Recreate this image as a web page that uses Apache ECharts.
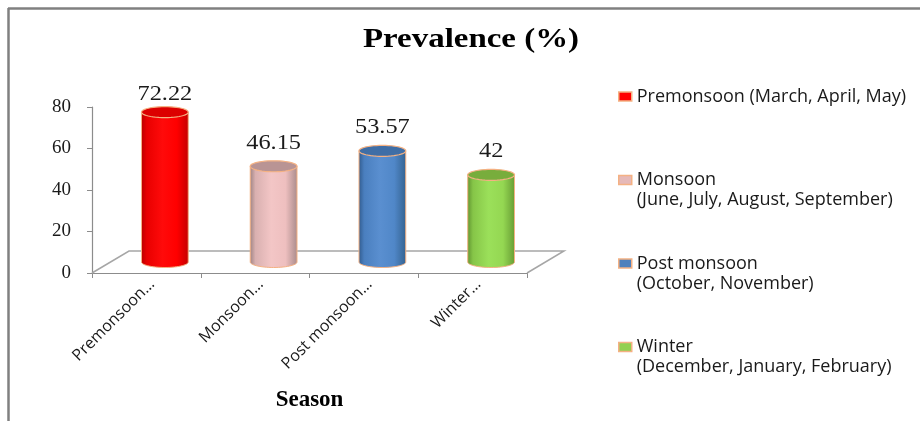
<!DOCTYPE html>
<html>
<head>
<meta charset="utf-8">
<script src="https://cdn.jsdelivr.net/npm/echarts@6/dist/echarts.min.js"></script>
<style>
  html, body { margin: 0; padding: 0; background: #fff; }
  #chart { width: 920px; height: 421px; }
</style>
</head>
<body>
<div id="chart"></div>
<script>
// ---- data ----
const categories = ['Premonsoon…', 'Monsoon…', 'Post monsoon…', 'Winter…'];
const seasonNames = [
  'Premonsoon (March, April, May)',
  'Monsoon\n(June, July, August, September)',
  'Post monsoon\n(October, November)',
  'Winter\n(December, January, February)'
];
const prevalence = [72.22, 46.15, 53.57, 42];
const yMin = 0, yMax = 80, yStep = 20;
const chartTitle = 'Prevalence (%)';
const xAxisTitle = 'Season';

// ---- styling ----
const OUTLINE = '#f4b183';
const AXIS_GRAY = '#8c8c8c';
const DEPTH_X = 37, DEPTH_Y = -22;   // floor depth offset (back edge vs front edge)
const WIDE = 1.16;                   // horizontal stretch of the serif captions
const palettes = [
  { base: '#ff0000', stops: ['#b80000', '#e80000', '#ff0a0a', '#ff0000', '#c40000'], top: '#dc0000' },
  { base: '#e6b9b8', stops: ['#9c8282', '#d9b0b0', '#f3c6c6', '#eebfbf', '#a98b8b'], top: '#b99494' },
  { base: '#4f81bd', stops: ['#305a8c', '#4a7fbf', '#5a8fd0', '#5087c8', '#34628f'], top: '#3f6ea6' },
  { base: '#92d050', stops: ['#5f9330', '#86c548', '#9be05a', '#94d752', '#679c34'], top: '#78ad3c' }
];

function ellipsePoints(cx, cy, rx, ry, from, to, n) {
  const pts = [];
  for (let i = 0; i <= n; i++) {
    const t = from + (to - from) * i / n;
    pts.push([cx + rx * Math.cos(t), cy + ry * Math.sin(t)]);
  }
  return pts;
}

function cylinderRenderer(pal) {
  return function (params, api) {
    const idx = api.value(0), val = api.value(1);
    const base = api.coord([idx, yMin]);
    const top = api.coord([idx, val]);
    const limit = api.coord([idx, yMax]);
    const band = api.size([1, 0])[0];
    const r = band * 0.215;
    const ry = 5.5;
    const cx = base[0] + DEPTH_X / 2;
    const by = base[1] + DEPTH_Y / 2;
    const ty = top[1] + DEPTH_Y / 2;
    const body = [[cx - r, ty], [cx - r, by]]
      .concat(ellipsePoints(cx, by, r, ry, Math.PI, 0, 30))
      .concat([[cx + r, ty]]);
    const grad = new echarts.graphic.LinearGradient(0, 0, 1, 0,
      pal.stops.map((c, i) => ({ offset: [0, 0.12, 0.45, 0.75, 1][i], color: c })));
    const labelY = Math.max(ty - 23, limit[1] + DEPTH_Y / 2 - 2);
    return {
      type: 'group',
      children: [
        { type: 'polygon', shape: { points: body },
          style: { fill: grad, stroke: OUTLINE, lineWidth: 1 } },
        { type: 'polygon', shape: { points: ellipsePoints(cx, ty, r, ry, 0, Math.PI * 2, 48) },
          style: { fill: pal.top, stroke: OUTLINE, lineWidth: 1.2 } },
        { type: 'text', x: cx, y: labelY, scaleX: WIDE,
          style: { text: String(val), fill: '#1a1a1a', align: 'center', verticalAlign: 'middle',
                   font: '21px "Liberation Serif", serif' } }
      ]
    };
  };
}

function floorRenderer(params, api) {
  const band = api.size([1, 0])[0];
  const left = api.coord([0, yMin]);
  const right = api.coord([categories.length - 1, yMin]);
  const x0 = left[0] - band / 2, x1 = right[0] + band / 2, y0 = left[1];
  return {
    type: 'polyline',
    shape: { points: [[x0, y0], [x0 + DEPTH_X, y0 + DEPTH_Y], [x1 + DEPTH_X, y0 + DEPTH_Y], [x1, y0]] },
    style: { stroke: '#a6a6a6', lineWidth: 1.5, fill: null }
  };
}

const series = [{
  type: 'custom', name: 'floor', silent: true, z: 1,
  renderItem: floorRenderer, data: [[0]]
}];
seasonNames.forEach((name, i) => {
  series.push({
    type: 'custom', name: name, z: 3,
    itemStyle: { color: palettes[i].base },
    renderItem: cylinderRenderer(palettes[i]),
    data: [[i, prevalence[i]]]
  });
});

// one legend block per season; two-line names get a blank leading line so the
// swatch lines up with the first line of text
const iconCenters = [96.5, 180, 263.5, 347];
const legends = seasonNames.map((name, i) => {
  const twoLine = name.indexOf('\n') >= 0;
  return {
    data: [name], orient: 'vertical', left: 618,
    top: iconCenters[i] - (twoLine ? 30 : 10),
    padding: 0, itemWidth: 13, itemHeight: 9, itemGap: 0, icon: 'rect', selectedMode: false,
    itemStyle: { borderColor: OUTLINE, borderWidth: 1.5 },
    formatter: n => (twoLine ? '\n' + n : n),
    textStyle: { fontFamily: '"Open Sans"', fontSize: 18, color: '#1a1a1a', lineHeight: 20 }
  };
});

const chart = echarts.init(document.getElementById('chart'), null, { renderer: 'canvas' });
chart.setOption({
  animation: false,
  backgroundColor: '#fff',
  legend: legends,
  grid: { left: 92, right: 393, top: 107, bottom: 148, containLabel: false },
  xAxis: {
    type: 'category', data: categories,
    axisLine: { show: true, lineStyle: { color: AXIS_GRAY, width: 1.2 } },
    axisTick: { show: true, length: 5, lineStyle: { color: AXIS_GRAY } },
    axisLabel: { rotate: 45, margin: 3, verticalAlign: 'top',
                 fontFamily: '"Open Sans"', fontSize: 16, color: '#1a1a1a' },
    name: xAxisTitle, nameLocation: 'middle', nameGap: 116,
    nameTextStyle: { fontFamily: '"Liberation Serif", serif', fontWeight: 'bold', fontSize: 23, color: '#000' }
  },
  yAxis: {
    type: 'value', min: yMin, max: yMax, interval: yStep,
    axisLine: { show: true, lineStyle: { color: AXIS_GRAY, width: 1.2 } },
    axisTick: { show: true, length: 5, lineStyle: { color: AXIS_GRAY } },
    splitLine: { show: false },
    axisLabel: { margin: 21, fontFamily: '"Liberation Serif", serif', fontSize: 19, color: '#1a1a1a' }
  },
  graphic: [
    { type: 'text', x: 471, y: 40, scaleX: 1.22, z: 10,
      style: { text: chartTitle, align: 'center', verticalAlign: 'middle', fill: '#000',
               font: 'bold 27px "Liberation Serif", serif' } },
    { type: 'line', shape: { x1: 8, y1: 8.5, x2: 920, y2: 8.5 }, style: { stroke: '#808080', lineWidth: 2.5 }, z: 10 },
    { type: 'line', shape: { x1: 8.5, y1: 8, x2: 8.5, y2: 421 }, style: { stroke: '#808080', lineWidth: 2.5 }, z: 10 }
  ],
  series: series
});
</script>
</body>
</html>
